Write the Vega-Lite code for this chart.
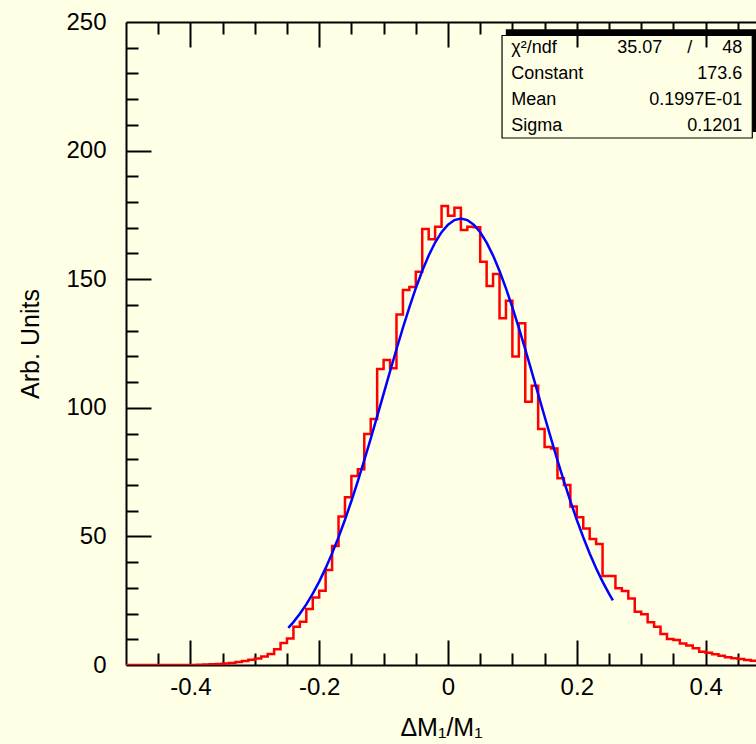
{
  "$schema": "https://vega.github.io/schema/vega-lite/v6.json",
  "width": 630,
  "height": 643,
  "autosize": {"type": "none"},
  "padding": {"left": 126, "top": 22, "right": 0, "bottom": 79},
  "background": "#ffffe5",
  "config": {
    "view": {"stroke": null},
    "font": "Liberation Sans",
    "axis": {
      "grid": false,
      "domainColor": "#000000",
      "domainWidth": 2,
      "tickColor": "#000000",
      "tickWidth": 2,
      "labelColor": "#000000",
      "titleColor": "#000000",
      "labelFont": "Liberation Sans",
      "titleFont": "Liberation Sans",
      "titleFontWeight": "normal"
    }
  },
  "datasets": {
    "hist": [
      {"x": -0.50, "y": 0}, {"x": -0.49, "y": 0}, {"x": -0.48, "y": 0}, {"x": -0.47, "y": 0}, {"x": -0.46, "y": 0},
      {"x": -0.45, "y": 0}, {"x": -0.44, "y": 0}, {"x": -0.43, "y": 0}, {"x": -0.42, "y": 0}, {"x": -0.41, "y": 0},
      {"x": -0.40, "y": 0}, {"x": -0.39, "y": 0.1}, {"x": -0.38, "y": 0.2}, {"x": -0.37, "y": 0.3}, {"x": -0.36, "y": 0.4},
      {"x": -0.35, "y": 0.6}, {"x": -0.34, "y": 0.8}, {"x": -0.33, "y": 1.2}, {"x": -0.32, "y": 1.6}, {"x": -0.31, "y": 2.0},
      {"x": -0.30, "y": 2.5}, {"x": -0.29, "y": 3.3}, {"x": -0.28, "y": 4.3}, {"x": -0.27, "y": 6.1}, {"x": -0.26, "y": 8.6},
      {"x": -0.25, "y": 10.3}, {"x": -0.24, "y": 14.9}, {"x": -0.23, "y": 16.8}, {"x": -0.22, "y": 21.8}, {"x": -0.21, "y": 26.2},
      {"x": -0.20, "y": 28.9}, {"x": -0.19, "y": 36.9}, {"x": -0.18, "y": 46.3}, {"x": -0.17, "y": 57.7}, {"x": -0.16, "y": 65.2},
      {"x": -0.15, "y": 73.5}, {"x": -0.14, "y": 76.1}, {"x": -0.13, "y": 89.8}, {"x": -0.12, "y": 95.6}, {"x": -0.11, "y": 115.1},
      {"x": -0.10, "y": 118.6}, {"x": -0.09, "y": 115.4}, {"x": -0.08, "y": 136.3}, {"x": -0.07, "y": 145.8}, {"x": -0.06, "y": 147.0},
      {"x": -0.05, "y": 152.9}, {"x": -0.04, "y": 169.5}, {"x": -0.03, "y": 165.5}, {"x": -0.02, "y": 170.4}, {"x": -0.01, "y": 178.5},
      {"x": 0.00, "y": 174.7}, {"x": 0.01, "y": 177.8}, {"x": 0.02, "y": 169.1}, {"x": 0.03, "y": 170.4}, {"x": 0.04, "y": 170.2},
      {"x": 0.05, "y": 156.8}, {"x": 0.06, "y": 147.4}, {"x": 0.07, "y": 152.0}, {"x": 0.08, "y": 134.8}, {"x": 0.09, "y": 141.6},
      {"x": 0.10, "y": 119.9}, {"x": 0.11, "y": 132.9}, {"x": 0.12, "y": 102.4}, {"x": 0.13, "y": 108.6}, {"x": 0.14, "y": 91.8},
      {"x": 0.15, "y": 84.8}, {"x": 0.16, "y": 84.2}, {"x": 0.17, "y": 72.6}, {"x": 0.18, "y": 70.0}, {"x": 0.19, "y": 61.6},
      {"x": 0.20, "y": 57.4}, {"x": 0.21, "y": 53.1}, {"x": 0.22, "y": 49.0}, {"x": 0.23, "y": 47.0}, {"x": 0.24, "y": 34.6},
      {"x": 0.25, "y": 34.6}, {"x": 0.26, "y": 29.8}, {"x": 0.27, "y": 28.8}, {"x": 0.28, "y": 25.9}, {"x": 0.29, "y": 20.7},
      {"x": 0.30, "y": 19.7}, {"x": 0.31, "y": 16.6}, {"x": 0.32, "y": 14.9}, {"x": 0.33, "y": 12.1}, {"x": 0.34, "y": 10.1},
      {"x": 0.35, "y": 9.7}, {"x": 0.36, "y": 8.4}, {"x": 0.37, "y": 7.6}, {"x": 0.38, "y": 6.5}, {"x": 0.39, "y": 5.2},
      {"x": 0.40, "y": 4.8}, {"x": 0.41, "y": 4.2}, {"x": 0.42, "y": 3.6}, {"x": 0.43, "y": 3.0}, {"x": 0.44, "y": 2.6},
      {"x": 0.45, "y": 2.3}, {"x": 0.46, "y": 1.9}, {"x": 0.47, "y": 1.7}, {"x": 0.48, "y": 1.4}, {"x": 0.49, "y": 1.2},
      {"x": 0.50, "y": 1.2}
    ],
    "fit": [
      {"x": -0.248, "y": 14.41}, {"x": -0.24, "y": 16.67}, {"x": -0.23, "y": 19.90}, {"x": -0.22, "y": 23.59}, {"x": -0.21, "y": 27.76},
      {"x": -0.20, "y": 32.44}, {"x": -0.19, "y": 37.66}, {"x": -0.18, "y": 43.40}, {"x": -0.17, "y": 49.69}, {"x": -0.16, "y": 56.48},
      {"x": -0.15, "y": 63.77}, {"x": -0.14, "y": 71.50}, {"x": -0.13, "y": 79.61}, {"x": -0.12, "y": 88.02}, {"x": -0.11, "y": 96.66},
      {"x": -0.10, "y": 105.41}, {"x": -0.09, "y": 114.16}, {"x": -0.08, "y": 122.77}, {"x": -0.07, "y": 131.12}, {"x": -0.06, "y": 139.08},
      {"x": -0.05, "y": 146.50}, {"x": -0.04, "y": 153.25}, {"x": -0.03, "y": 159.21}, {"x": -0.02, "y": 164.25}, {"x": -0.01, "y": 168.28},
      {"x": 0.00, "y": 171.22}, {"x": 0.01, "y": 173.00}, {"x": 0.02, "y": 173.60}, {"x": 0.03, "y": 173.00}, {"x": 0.04, "y": 171.20},
      {"x": 0.05, "y": 168.26}, {"x": 0.06, "y": 164.22}, {"x": 0.07, "y": 159.17}, {"x": 0.08, "y": 153.21}, {"x": 0.09, "y": 146.46},
      {"x": 0.10, "y": 139.03}, {"x": 0.11, "y": 131.07}, {"x": 0.12, "y": 122.72}, {"x": 0.13, "y": 114.10}, {"x": 0.14, "y": 105.35},
      {"x": 0.15, "y": 96.61}, {"x": 0.16, "y": 87.98}, {"x": 0.17, "y": 79.56}, {"x": 0.18, "y": 71.45}, {"x": 0.19, "y": 63.72},
      {"x": 0.20, "y": 56.45}, {"x": 0.21, "y": 49.65}, {"x": 0.22, "y": 43.37}, {"x": 0.23, "y": 37.62}, {"x": 0.24, "y": 32.41},
      {"x": 0.25, "y": 27.73}, {"x": 0.256, "y": 25.17}
    ],
    "stats": [
      {"stat": "χ²/ndf", "value": "35.07\u00a0\u00a0\u00a0\u00a0\u00a0/\u00a0\u00a0\u00a0\u00a0\u00a0\u00a048"},
      {"stat": "Constant", "value": "173.6"},
      {"stat": "Mean", "value": "0.1997E-01"},
      {"stat": "Sigma", "value": "0.1201"}
    ],
    "box": [
      {"name": "stats box"}
    ]
  },
  "resolve": {"axis": {"x": "independent", "y": "independent"}},
  "layer": [
    {
      "data": {"name": "hist"},
      "mark": {"type": "line", "interpolate": "step-after", "color": "#ff0000", "strokeWidth": 2.5, "clip": true},
      "encoding": {
        "x": {
          "field": "x", "type": "quantitative",
          "scale": {"domain": [-0.5, 0.47826], "nice": false, "zero": false},
          "axis": {
            "orient": "bottom", "values": [-0.4, -0.2, 0, 0.2, 0.4], "ticks": false, "domain": true,
            "labelFontSize": 24, "labelPadding": 10, "labelFlush": false,
            "labelExpr": "datum.value == 0 ? '0' : replace(format(datum.value, '.1f'), '\u2212', '-')",
            "title": "ΔM₁/M₁", "titleFontSize": 25, "titlePadding": 16
          }
        },
        "y": {
          "field": "y", "type": "quantitative",
          "scale": {"domain": [0, 250], "nice": false, "zero": true},
          "axis": {
            "orient": "left", "values": [0, 50, 100, 150, 200, 250], "ticks": false, "domain": true,
            "labelFontSize": 24, "labelPadding": 20, "labelFlush": false,
            "title": "Arb. Units", "titleFontSize": 25, "titlePadding": 22
          }
        }
      }
    },
    {
      "data": {"name": "fit"},
      "mark": {"type": "line", "color": "#0000ff", "strokeWidth": 2.5, "clip": true},
      "encoding": {
        "x": {
          "field": "x", "type": "quantitative",
          "axis": {"orient": "bottom", "values": [-0.4, -0.2, 0, 0.2, 0.4], "labels": false, "domain": false, "tickSize": -25, "title": null}
        },
        "y": {
          "field": "y", "type": "quantitative",
          "axis": {"orient": "left", "values": [50, 100, 150, 200], "labels": false, "domain": false, "tickSize": -25, "title": null}
        }
      }
    },
    {
      "data": {"name": "box"},
      "mark": {"type": "rect", "color": "#000000", "clip": true},
      "encoding": {
        "x": {
          "datum": 0.0898, "type": "quantitative",
          "axis": {"orient": "bottom", "values": [-0.45, -0.35, -0.3, -0.25, -0.15, -0.1, -0.05, 0.05, 0.1, 0.15, 0.25, 0.3, 0.35, 0.45], "labels": false, "domain": false, "tickSize": -12, "title": null}
        },
        "x2": {"datum": 0.5},
        "y": {
          "datum": 247.2, "type": "quantitative",
          "axis": {"orient": "left", "values": [10, 20, 30, 40, 60, 70, 80, 90, 110, 120, 130, 140, 160, 170, 180, 190, 210, 220, 230, 240], "labels": false, "domain": false, "tickSize": -12, "title": null}
        },
        "y2": {"datum": 207.2}
      }
    },
    {
      "data": {"name": "box"},
      "mark": {"type": "rect", "fill": "#ffffe5", "stroke": "#000000", "strokeWidth": 1.2, "clip": true},
      "encoding": {
        "x": {
          "datum": 0.0839, "type": "quantitative",
          "axis": {"orient": "top", "values": [-0.45, -0.35, -0.3, -0.25, -0.15, -0.1, -0.05, 0.05, 0.1, 0.15, 0.25, 0.3, 0.35, 0.45], "labels": false, "domain": true, "tickSize": -12, "title": null}
        },
        "x2": {"datum": 0.4725},
        "y": {"datum": 244.75, "type": "quantitative", "axis": null},
        "y2": {"datum": 204.9}
      }
    },
    {
      "data": {"name": "stats"},
      "mark": {"type": "text", "align": "left", "baseline": "middle", "fontSize": 18, "font": "Liberation Sans", "color": "#000000"},
      "encoding": {
        "x": {
          "datum": 0.0983, "type": "quantitative",
          "axis": {"orient": "top", "values": [-0.4, -0.2, 0, 0.2, 0.4], "labels": false, "domain": false, "tickSize": -25, "title": null, "zindex": 1}
        },
        "y": {"datum": 239.9, "type": "quantitative", "axis": null},
        "yOffset": {"field": "stat", "type": "nominal", "sort": null, "scale": {"type": "point", "range": [0, 78], "padding": 0}},
        "text": {"field": "stat", "type": "nominal"}
      }
    },
    {
      "data": {"name": "stats"},
      "mark": {"type": "text", "align": "right", "baseline": "middle", "fontSize": 18, "font": "Liberation Sans", "color": "#000000"},
      "encoding": {
        "x": {"datum": 0.457, "type": "quantitative", "axis": null},
        "y": {"datum": 239.9, "type": "quantitative", "axis": null},
        "yOffset": {"field": "stat", "type": "nominal", "sort": null, "scale": {"type": "point", "range": [0, 78], "padding": 0}},
        "text": {"field": "value", "type": "nominal"}
      }
    }
  ]
}
